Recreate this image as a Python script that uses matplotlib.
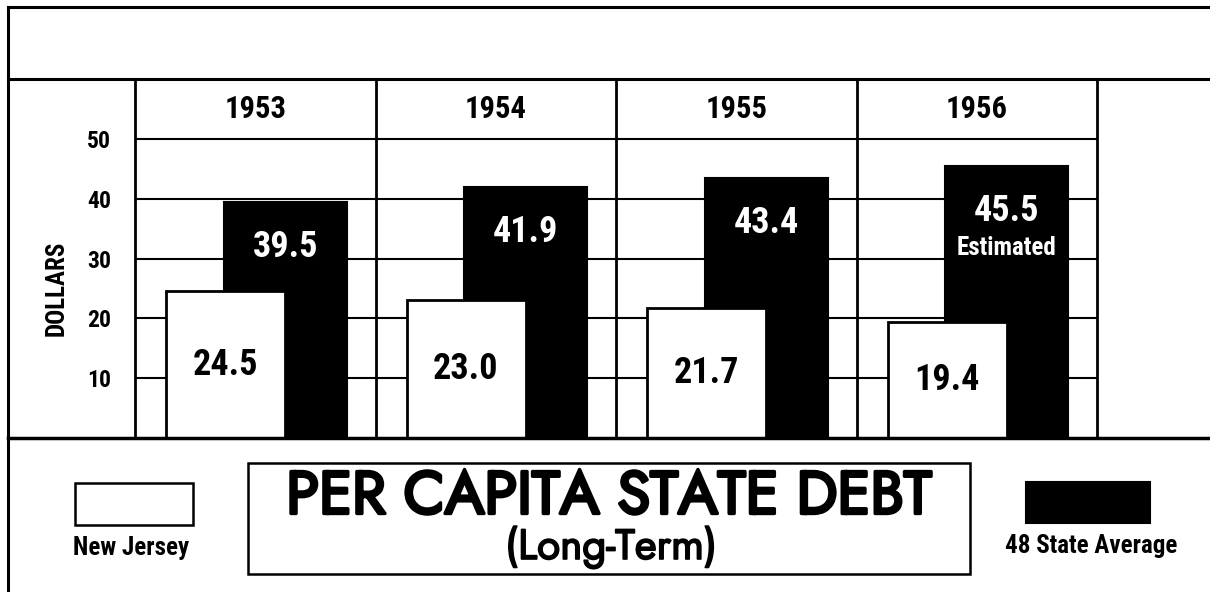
import matplotlib
matplotlib.use("Agg")
import matplotlib.pyplot as plt
import matplotlib.patheffects as pe
from matplotlib.lines import Line2D
from matplotlib.patches import Rectangle

years = ["1953", "1954", "1955", "1956"]
new_jersey = [24.5, 23.0, 21.7, 19.4]
state_avg = [39.5, 41.9, 43.4, 45.5]
notes = ["", "", "", "Estimated"]
y_ticks = [10, 20, 30, 40, 50]

W, H = 1210, 592
NARROW = ["Roboto Condensed", "DejaVu Sans"]
ROUND = ["Jost", "DejaVu Sans"]


def fx(px):
    return px / W


def fy(py):
    return 1 - py / H


def fit_width(t, target_px):
    # rescale a text so its drawn width comes out at target_px
    r = fig.canvas.get_renderer()
    w = t.get_window_extent(r).width
    t.set_fontsize(t.get_fontsize() * target_px / w)


fig = plt.figure(figsize=(W / 100, H / 100), dpi=100)

# plot area: x spans the four year columns, y runs 0..60 (top row holds the years)
ax = fig.add_axes([fx(135), fy(438), fx(1097) - fx(135), fy(79) - fy(438)])
ax.set_xlim(0, len(years))
ax.set_ylim(0, 60)

for v in y_ticks:
    ax.axhline(v, color="black", lw=1.5, zorder=1)
for i in range(1, len(years)):
    ax.axvline(i, color="black", lw=2, zorder=1)

for side in ["left", "right", "top", "bottom"]:
    ax.spines[side].set_linewidth(2)

ax.set_xticks([])
ax.set_yticks(y_ticks)
ax.set_yticklabels([str(v) for v in y_ticks], family=NARROW, fontweight="bold", fontsize=17)
ax.tick_params(axis="y", length=0, pad=17)

# black bars behind, white bars overlapping in front
for i, (nj, avg) in enumerate(zip(new_jersey, state_avg)):
    ax.bar(i + 0.37, avg, width=0.51, align="edge", color="black", edgecolor="black", lw=1.5, zorder=2)
    ax.bar(i + 0.13, nj, width=0.495, align="edge", color="white", edgecolor="black", lw=2, zorder=3)

    ax.text(i + 0.5, 55, years[i], ha="center", va="center", family=NARROW,
            fontweight="bold", fontsize=22)
    ax.text(i + 0.375, nj / 2, f"{nj:.1f}", ha="center", va="center", family=NARROW,
            fontweight="bold", fontsize=26, zorder=4)
    ax.text(i + 0.625, avg - 7.5, f"{avg:.1f}", ha="center", va="center", family=NARROW,
            fontweight="bold", fontsize=26, color="white", zorder=4)
    if notes[i]:
        ax.text(i + 0.625, avg - 13.7, notes[i], ha="center", va="center", family=NARROW,
                fontweight="bold", fontsize=18, color="white", zorder=4)

fig.text(fx(57), fy(288), "DOLLARS", rotation=90, ha="center", va="center",
         family=NARROW, fontweight="bold", fontsize=18)

# outer frame
for x0, y0, x1, y1, lw in [(8, 7, 1210, 7, 2.2), (8, 79, 1210, 79, 2.2),
                           (8, 438, 1210, 438, 2.5), (8, 7, 8, 592, 2.2)]:
    fig.add_artist(Line2D([fx(x0), fx(x1)], [fy(y0), fy(y1)], color="black", lw=lw,
                          transform=fig.transFigure))

# legend swatches
fig.add_artist(Rectangle((fx(75), fy(525)), fx(193) - fx(75), fy(483) - fy(525),
                         facecolor="white", edgecolor="black", lw=1.8, transform=fig.transFigure))
fig.text(fx(131), fy(548), "New Jersey", ha="center", va="center", family=NARROW,
         fontweight="bold", fontsize=18)
fig.add_artist(Rectangle((fx(1026), fy(523)), fx(1150) - fx(1026), fy(482) - fy(523),
                         facecolor="black", edgecolor="black", lw=1.5, transform=fig.transFigure))
fig.text(fx(1091), fy(546), "48 State Average", ha="center", va="center", family=NARROW,
         fontweight="bold", fontsize=18)

# title box; Jost is thin here, so thicken it with a stroke of the same colour
fig.add_artist(Rectangle((fx(248), fy(574)), fx(970) - fx(248), fy(463) - fy(574),
                         facecolor="white", edgecolor="black", lw=1.8, transform=fig.transFigure))
title = fig.text(fx(609), fy(497), "PER CAPITA STATE DEBT", ha="center", va="center",
                 family=ROUND, fontsize=46,
                 path_effects=[pe.withStroke(linewidth=2.4, foreground="black")])
sub = fig.text(fx(611), fy(547), "(Long-Term)", ha="center", va="center",
               family=ROUND, fontsize=23,
               path_effects=[pe.withStroke(linewidth=1.2, foreground="black")])
fit_width(title, 645)
fit_width(sub, 212)

fig.savefig("out.png", dpi=100, facecolor="white")
